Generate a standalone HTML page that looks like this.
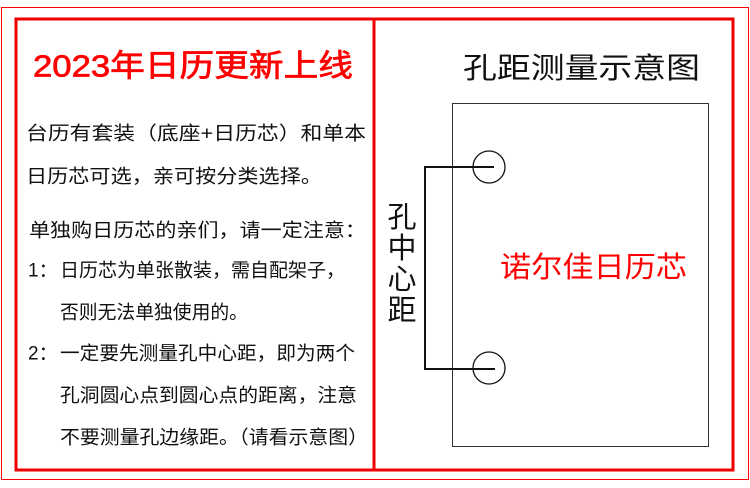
<!DOCTYPE html>
<html><head><meta charset="utf-8"><style>html,body{margin:0;padding:0;background:#fff}svg{display:block}</style></head><body>
<svg width="750" height="488" viewBox="0 0 750 488" xmlns="http://www.w3.org/2000/svg" font-family="'Liberation Sans','Noto Sans CJK SC',sans-serif">
<rect x="0" y="0" width="750" height="488" fill="#fff"/>
<rect x="1.5" y="7.5" width="747" height="472" fill="none" stroke="#f00" stroke-width="1"/>
<rect x="16" y="19" width="717" height="451" fill="none" stroke="#e00" stroke-width="3"/>
<line x1="374" y1="19" x2="374" y2="470" stroke="#e00" stroke-width="3"/>
<g dominant-baseline="central">
<text x="33" y="66" font-size="31" fill="#f00" stroke="#f00" stroke-width="0.7" textLength="320" lengthAdjust="spacingAndGlyphs">2023年日历更新上线</text>
<g font-size="19" fill="#111">
<text x="26" y="134" textLength="340" lengthAdjust="spacingAndGlyphs">台历有套装（底座+日历芯）和单本</text>
<text x="26" y="177" textLength="296" lengthAdjust="spacingAndGlyphs">日历芯可选，亲可按分类选择。</text>
<text x="29" y="231" textLength="337" lengthAdjust="spacingAndGlyphs">单独购日历芯的亲们，请一定注意：</text>
<text x="28" y="271">1：</text>
<text x="60" y="271" textLength="285" lengthAdjust="spacingAndGlyphs">日历芯为单张散装，需自配架子，</text>
<text x="60" y="313" textLength="188" lengthAdjust="spacingAndGlyphs">否则无法单独使用的。</text>
<text x="28" y="354">2：</text>
<text x="60" y="354" textLength="295" lengthAdjust="spacingAndGlyphs">一定要先测量孔中心距，即为两个</text>
<text x="60" y="396" textLength="297" lengthAdjust="spacingAndGlyphs">孔洞圆心点到圆心点的距离，注意</text>
<text x="60" y="438" textLength="308" lengthAdjust="spacingAndGlyphs">不要测量孔边缘距。（请看示意图）</text>
</g>
<text x="463" y="69" font-size="29" fill="#111" textLength="237" lengthAdjust="spacingAndGlyphs">孔距测量示意图</text>
<text x="500" y="268" font-size="29" fill="#f00" textLength="187" lengthAdjust="spacingAndGlyphs">诺尔佳日历芯</text>
<g font-size="29" fill="#111" text-anchor="middle">
<text x="402" y="218">孔</text>
<text x="402" y="249">中</text>
<text x="402" y="280">心</text>
<text x="402" y="311">距</text>
</g>
</g>
<rect x="452.5" y="103.5" width="256" height="343" fill="none" stroke="#333" stroke-width="1"/>
<circle cx="489" cy="167" r="16" fill="none" stroke="#111" stroke-width="1.3"/>
<circle cx="489" cy="368" r="16" fill="none" stroke="#111" stroke-width="1.3"/>
<path d="M494 167 H425 V369 H495" fill="none" stroke="#111" stroke-width="2"/>
</svg>
</body></html>
